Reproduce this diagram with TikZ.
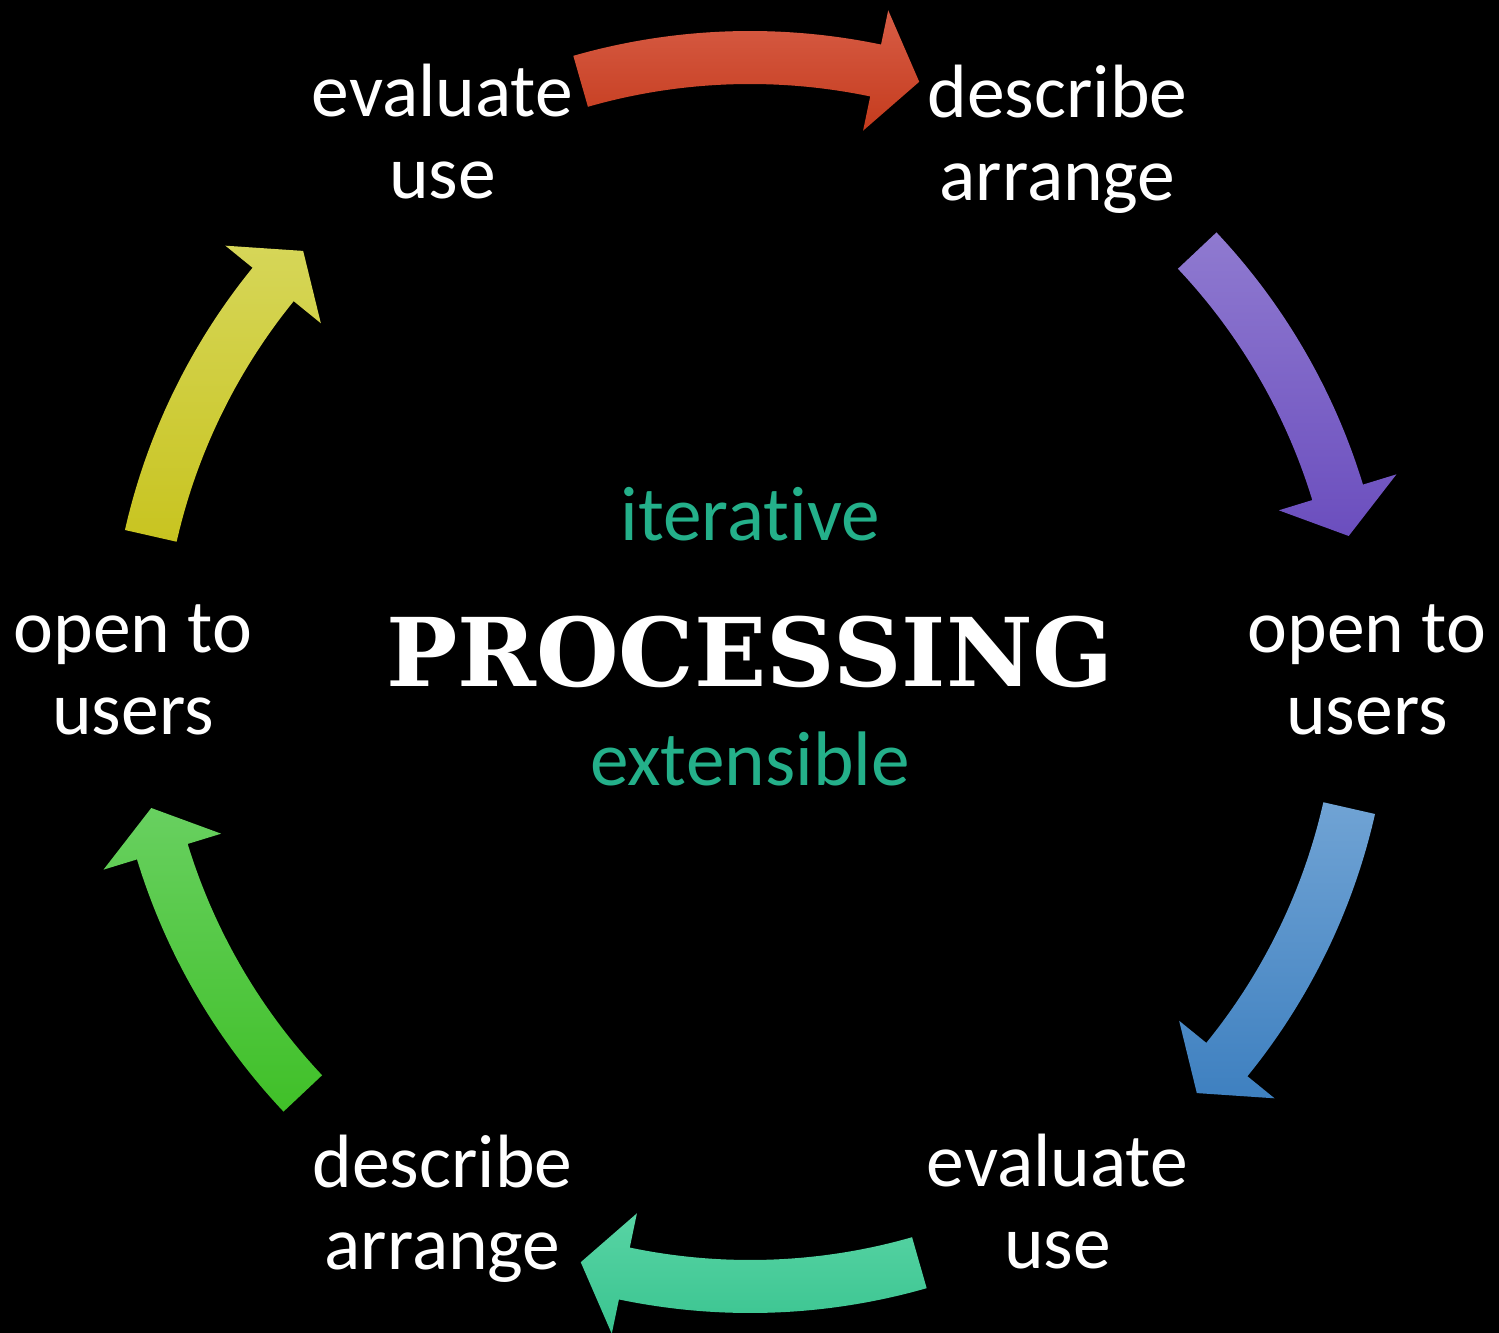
\documentclass[tikz,border=0pt]{standalone}
\usepackage{fontspec}
\setmainfont{Carlito}[RawFeature={-liga;-clig;-calt}]
\newfontfamily\procfont{DejaVu Serif}
\definecolor{txtgreen}{HTML}{24B08A}
\definecolor{redT}{HTML}{D75D46}
\definecolor{redB}{HTML}{C53B1D}
\definecolor{purT}{HTML}{8F7AD0}
\definecolor{purB}{HTML}{6B4EBE}
\definecolor{bluT}{HTML}{70A3D4}
\definecolor{bluB}{HTML}{3E80C0}
\definecolor{teaT}{HTML}{58D4A4}
\definecolor{teaB}{HTML}{3AC490}
\definecolor{greT}{HTML}{68D060}
\definecolor{greB}{HTML}{40C028}
\definecolor{yelT}{HTML}{D6D658}
\definecolor{yelB}{HTML}{C8C420}
\newcommand{\cyclearrow}[4]{%
  \pgfmathsetmacro\hb{#2+4.2}%
  \path[top color=#3, bottom color=#4]
    (#1:641) arc[start angle=#1, end angle=\hb, radius=641]
    -- (\hb:676) -- (#2:614) -- (\hb:553) -- (\hb:588)
    arc[start angle=\hb, end angle=#1, radius=588] -- cycle;
}
\begin{document}
\begin{tikzpicture}[x=0.02cm, y=0.02cm,
  lbl/.style={text=white, align=center, inner sep=0pt,
    font=\fontsize{43}{47}\selectfont},
  sub/.style={text=txtgreen, inner sep=0pt, anchor=base,
    font=\fontsize{44}{48}\selectfont},
  title/.style={text=white, inner sep=0pt, anchor=base,
    font=\fontsize{54}{58}\procfont\bfseries}]
\fill[black] (-750,-661) rectangle (749,672);
\useasboundingbox (-750,-661) rectangle (749,672);
% arrows
\cyclearrow{106}{74}{redT}{redB}
\cyclearrow{43.3}{12.8}{purT}{purB}
\cyclearrow{-12.8}{-43.3}{bluT}{bluB}
\cyclearrow{-74}{-106}{teaT}{teaB}
\cyclearrow{223.3}{192.8}{greT}{greB}
\cyclearrow{167.2}{136.7}{yelT}{yelB}
% labels
\node[lbl] (evalTop) at ([yshift=8*0.02cm]120:615) {evaluate\\use};
\node[lbl] (descTop) at (60:615) {describe\\arrange};
\node[lbl] (openR) at ([yshift=2*0.02cm]0:617) {open to\\users};
\node[lbl] (evalBot) at ([yshift=3*0.02cm]-60:615) {evaluate\\use};
\node[lbl] (descBot) at ([yshift=-4*0.02cm]-120:615) {describe\\arrange};
\node[lbl] (openL) at ([yshift=2*0.02cm]180:617) {open to\\users};
% centre
\node[sub] (iter) at (0,132) {iterat\kern0pt ive};
\node[title] (proc) at (0,-14) {PROCESSING};
\node[sub] (ext) at (0,-113) {extensible};
\end{tikzpicture}
\end{document}
